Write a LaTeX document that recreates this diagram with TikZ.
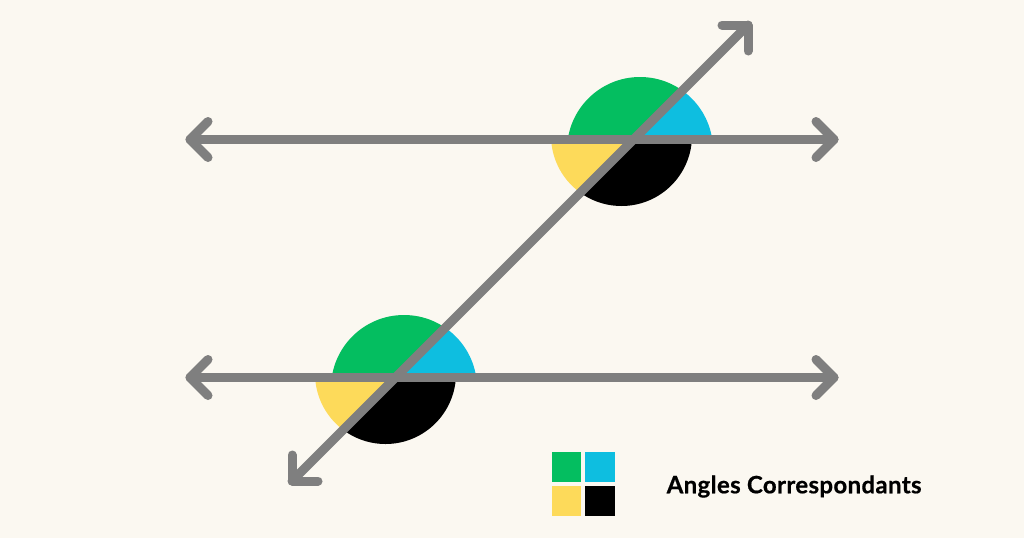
\documentclass[tikz,border=0pt]{standalone}
\usepackage{fontspec}
\setmainfont{Lato}
\newfontfamily\labfont[FakeBold=0.6, LetterSpace=1.5]{Lato Bold}
\definecolor{bgc}{HTML}{FBF8F1}
\definecolor{lgray}{HTML}{7F7F7F}
\definecolor{agreen}{HTML}{04BE60}
\definecolor{acyan}{HTML}{0EBEE0}
\definecolor{ayellow}{HTML}{FDDA5A}
\definecolor{ablack}{HTML}{000000}
\tikzset{
  gline/.style={draw=lgray, line width=9pt, line cap=round, line join=round},
  legsq/.style={minimum width=29.5pt, minimum height=30pt, inner sep=0pt, outer sep=0pt},
}
\begin{document}
\begin{tikzpicture}[x=1pt,y=-1pt]
\fill[bgc] (0,0) rectangle (1024,538);
\useasboundingbox (0,0) rectangle (1024,538);
% intersection points
\coordinate (IU) at (633.5,139.5);
\coordinate (IL) at (395.5,377.5);
% angle discs
\foreach \I/\cu/\cl in {IU/{(640,150)}/{(621.5,135.5)}, IL/{(404,388)}/{(385.5,373.5)}}{
  \begin{scope}
    \clip (\I) -- ++(-160,0) -- ++(0,-160) -- ++(320,0) -- cycle;
    \fill[agreen] \cu circle[radius=73];
  \end{scope}
  \begin{scope}
    \clip (\I) -- ++(160,-160) -- ++(0,160) -- cycle;
    \fill[acyan] \cu circle[radius=73];
  \end{scope}
  \begin{scope}
    \clip (\I) -- ++(-160,0) -- ++(0,160) -- cycle;
    \fill[ayellow] \cl circle[radius=70.5];
  \end{scope}
  \begin{scope}
    \clip (\I) -- ++(-160,160) -- ++(320,0) -- ++(0,-160) -- cycle;
    \fill[ablack] \cl circle[radius=70.5];
  \end{scope}
}
% lines
\coordinate (LU1) at (190,139.5);
\coordinate (LU2) at (834,139.5);
\coordinate (LL1) at (190,377.5);
\coordinate (LL2) at (834,377.5);
\coordinate (T1) at (292,481);
\coordinate (T2) at (748,25);
\draw[gline] (LU1) -- (LU2);
\draw[gline] (LL1) -- (LL2);
\draw[gline] (T1) -- (T2);
\draw[gline] ([shift={(18,-18)}]LU1) -- (LU1) -- ([shift={(18,18)}]LU1);
\draw[gline] ([shift={(-18,-18)}]LU2) -- (LU2) -- ([shift={(-18,18)}]LU2);
\draw[gline] ([shift={(18,-18)}]LL1) -- (LL1) -- ([shift={(18,18)}]LL1);
\draw[gline] ([shift={(-18,-18)}]LL2) -- (LL2) -- ([shift={(-18,18)}]LL2);
\draw[gline] ([shift={(-26,0)}]T2) -- (T2) -- ([shift={(0,26)}]T2);
\draw[gline] ([shift={(0,-26)}]T1) -- (T1) -- ([shift={(26,0)}]T1);
% legend
\node[legsq, fill=agreen, anchor=north west] (sqg) at (551.5,452) {};
\node[legsq, fill=acyan, anchor=north west] (sqc) at (585,452) {};
\node[legsq, fill=ayellow, anchor=north west] (sqy) at (551.5,486) {};
\node[legsq, fill=ablack, anchor=north west] (sqb) at (585,486) {};
\node[anchor=base west, inner sep=0pt, font=\labfont\fontsize{24}{28}\selectfont] (lab) at (666.5,493.3) {Angles Correspondants};
\end{tikzpicture}
\end{document}
